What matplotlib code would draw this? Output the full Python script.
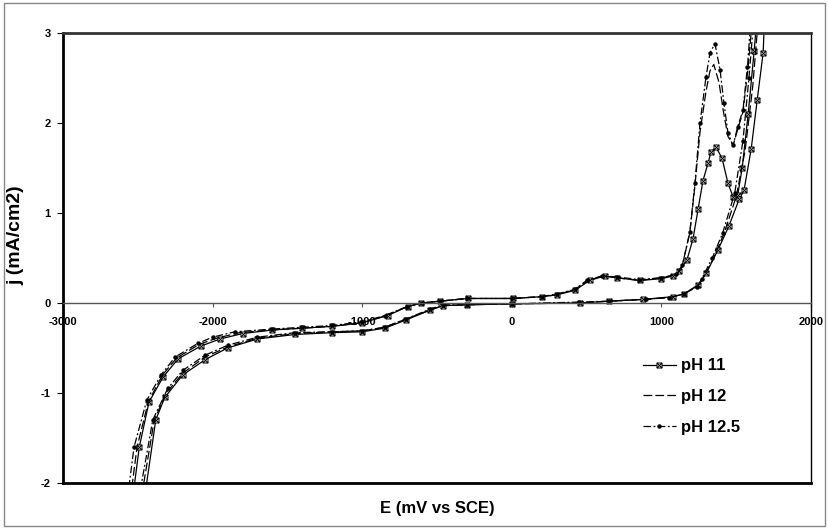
import numpy as np
import matplotlib.pyplot as plt
from matplotlib.path import Path
from matplotlib.patches import Rectangle

plt.rcParams['font.family'] = ['Liberation Sans', 'DejaVu Sans']
plt.rcParams['axes.unicode_minus'] = False

# cyclic voltammograms: anodic sweep followed by the return sweep
e_ph11 = [-2525, -2490, -2425, -2330, -2230, -2080, -1950, -1800, -1600, -1400, -1200,
          -1000, -830, -696, -606, -480, -293, 8, 200, 300, 422, 520, 620, 700, 860,
          1000, 1078, 1118, 1171, 1211, 1245, 1278, 1311, 1332, 1365, 1405, 1445, 1479,
          1510, 1540, 1580, 1620, 1640, 1700,
          1680, 1640, 1600, 1552, 1519, 1450, 1378, 1300, 1245, 1150, 1078, 877, 650,
          456, 0, -300, -460, -547, -709, -849, -1000, -1200, -1450, -1700, -1900,
          -2050, -2200, -2320, -2380, -2445]
j_ph11 = [-2.05, -1.6, -1.1, -0.82, -0.62, -0.48, -0.4, -0.34, -0.3, -0.28, -0.26,
          -0.22, -0.14, -0.04, 0.0, 0.02, 0.05, 0.05, 0.07, 0.09, 0.14, 0.25, 0.3, 0.28, 0.25,
          0.27, 0.3, 0.35, 0.48, 0.71, 1.04, 1.36, 1.55, 1.68, 1.73, 1.61, 1.33, 1.18,
          1.2, 1.5, 2.1, 2.8, 3.2, 3.6,
          2.78, 2.25, 1.71, 1.25, 1.15, 0.85, 0.59, 0.33, 0.2, 0.1, 0.07, 0.04, 0.02,
          0.0, -0.01, -0.02, -0.03, -0.08, -0.19, -0.28, -0.32, -0.33, -0.35, -0.4, -0.5,
          -0.63, -0.8, -1.05, -1.3, -2.05]

e_ph12 = [-2540, -2505, -2430, -2335, -2240, -2090, -1970, -1820, -1600, -1400, -1200,
          -1000, -840, -700, -600, -480, -300, 0, 200, 300, 420, 510, 610, 700, 850,
          1000, 1100, 1140, 1190, 1224, 1258, 1298, 1325, 1350, 1385, 1415, 1445, 1479,
          1510, 1545, 1580, 1610, 1660,
          1650, 1610, 1560, 1500, 1420, 1350, 1270, 1240, 1150, 1060, 880, 650, 450,
          0, -300, -460, -550, -710, -850, -1000, -1200, -1450, -1700, -1900, -2050,
          -2200, -2310, -2390, -2465]
j_ph12 = [-2.05, -1.6, -1.1, -0.8, -0.61, -0.46, -0.39, -0.33, -0.3, -0.28, -0.26,
          -0.22, -0.14, -0.04, 0.0, 0.02, 0.05, 0.05, 0.07, 0.09, 0.15, 0.25, 0.3, 0.28, 0.25,
          0.28, 0.31, 0.42, 0.78, 1.3, 1.9, 2.35, 2.58, 2.65, 2.45, 2.12, 1.85, 1.75,
          1.93, 2.12, 2.62, 3.2, 3.6,
          3.2, 2.4, 1.7, 1.18, 0.78, 0.5, 0.25, 0.19, 0.1, 0.06, 0.04, 0.02, 0.0,
          -0.01, -0.02, -0.03, -0.08, -0.18, -0.27, -0.31, -0.32, -0.34, -0.39, -0.49, -0.6,
          -0.78, -1.0, -1.3, -2.05]

e_ph125 = [-2560, -2525, -2440, -2345, -2250, -2100, -2000, -1850, -1600, -1400, -1200,
           -1000, -850, -700, -600, -480, -300, 0, 200, 300, 420, 500, 600, 700, 850,
           1000, 1100, 1140, 1190, 1224, 1258, 1298, 1325, 1358, 1392, 1418, 1445, 1479,
           1510, 1545, 1575, 1600, 1640,
           1620, 1585, 1545, 1490, 1410, 1340, 1270, 1240, 1150, 1050, 900, 650, 450,
           0, -300, -460, -550, -710, -850, -1000, -1200, -1450, -1700, -1900, -2050,
           -2200, -2300, -2400, -2480]
j_ph125 = [-2.05, -1.6, -1.08, -0.8, -0.6, -0.45, -0.38, -0.32, -0.29, -0.27, -0.25,
           -0.21, -0.14, -0.04, 0.0, 0.02, 0.05, 0.05, 0.07, 0.1, 0.15, 0.25, 0.3, 0.29, 0.26,
           0.28, 0.32, 0.42, 0.79, 1.33, 2.0, 2.51, 2.78, 2.88, 2.59, 2.22, 1.89, 1.75,
           1.96, 2.14, 2.62, 3.2, 3.6,
           3.2, 2.5, 1.8, 1.22, 0.78, 0.5, 0.27, 0.18, 0.1, 0.06, 0.04, 0.02, 0.01,
           -0.01, -0.02, -0.02, -0.07, -0.18, -0.27, -0.31, -0.32, -0.33, -0.38, -0.47, -0.58,
           -0.75, -0.95, -1.3, -2.05]

x_ticks = [-3000, -2000, -1000, 0, 1000, 2000]
y_ticks = [-2, -1, 0, 1, 2, 3]

# open square with a cross inside
box_x = Path([(-1, -1), (1, -1), (1, 1), (-1, 1), (-1, -1),
              (-1, -1), (1, 1), (-1, 1), (1, -1)],
             [Path.MOVETO, Path.LINETO, Path.LINETO, Path.LINETO, Path.CLOSEPOLY,
              Path.MOVETO, Path.LINETO, Path.MOVETO, Path.LINETO])

fig = plt.figure(figsize=(8.29, 5.29), dpi=100)
ax = fig.add_axes([0.076, 0.087, 0.9023, 0.8507])

ax.plot(e_ph11, j_ph11, color='black', lw=0.9, marker=box_x, markersize=3.6,
        markerfacecolor='white', markeredgecolor='black', markeredgewidth=0.7,
        label='pH 11')
ax.plot(e_ph12, j_ph12, color='black', lw=0.9, dashes=(7, 2.5), label='pH 12')
ax.plot(e_ph125, j_ph125, color='black', lw=0.9, dashes=(6, 2, 1.5, 2),
        marker='o', markersize=2.2, label='pH 12.5')

ax.set_xlim(-3000, 2000)
ax.set_ylim(-2, 3)
ax.set_xticks(x_ticks)
ax.set_yticks(y_ticks)

# x axis runs through j = 0, frame drawn around the plot area
ax.spines['bottom'].set_position(('data', 0))
ax.spines['bottom'].set_color('#555555')
ax.spines['bottom'].set_linewidth(1)
ax.spines['left'].set_linewidth(2)
ax.spines['top'].set_linewidth(2)
ax.spines['top'].set_color('#333333')
ax.spines['right'].set_linewidth(1)
ax.plot([0, 1], [0, 0], transform=ax.transAxes, color='black', lw=2, clip_on=False)

ax.tick_params(axis='x', direction='out', length=3, width=0.8, pad=7,
               labelsize=8, color='#555555')
ax.tick_params(axis='y', direction='out', length=4, width=0.8, pad=5,
               labelsize=8)
for lab in ax.get_xticklabels() + ax.get_yticklabels():
    lab.set_fontweight('bold')

ax.set_xlabel('E (mV vs SCE)', fontsize=12, fontweight='bold')
ax.xaxis.set_label_coords(0.5, -0.04)
ax.set_ylabel('j (mA/cm2)', fontsize=14, fontweight='bold')
ax.yaxis.set_label_coords(-0.052, 0.55)

leg = ax.legend(loc='upper left', bbox_to_anchor=(0.755, 0.31), frameon=False,
                handlelength=2.0, handletextpad=0.3, labelspacing=0.95,
                prop={'size': 12, 'weight': 'bold'})

fig.patches.append(Rectangle((0.005, 0.006), 0.99, 0.988, transform=fig.transFigure,
                             fill=False, edgecolor='#888888', lw=1))

fig.savefig('out.png', dpi=100)
